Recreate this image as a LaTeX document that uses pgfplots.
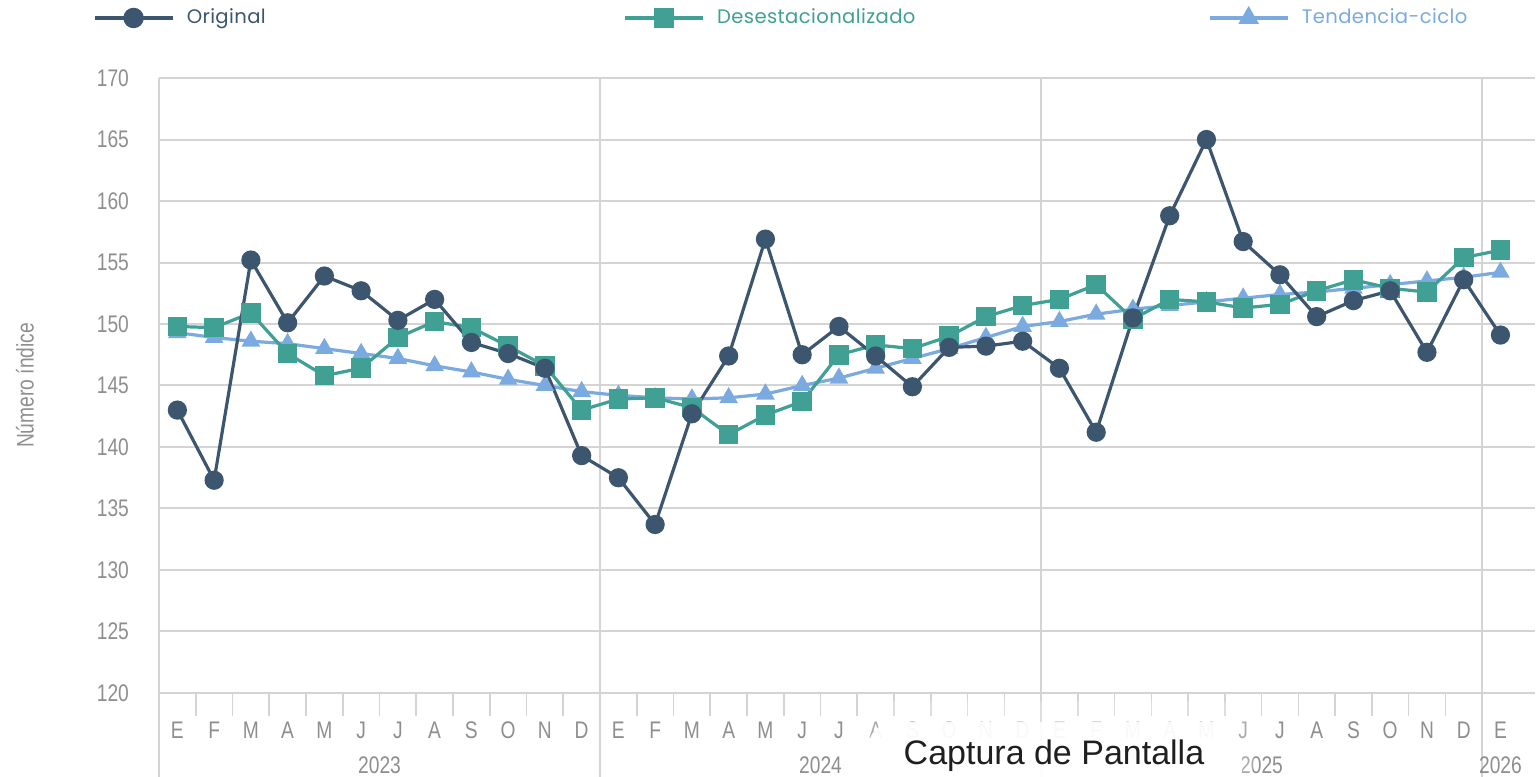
\documentclass[border=0pt]{standalone}
\usepackage{fontspec}
\setmainfont{Liberation Sans}
\newfontfamily\cond[FakeStretch=0.8]{Liberation Sans}
\newfontfamily\legfont[LetterSpace=2]{Poppins}
\usepackage{pgfplots}
\usepackage{pgfplotstable}
\pgfplotsset{compat=1.18}

\definecolor{orig}{HTML}{3D5670}
\definecolor{desest}{HTML}{3FA093}
\definecolor{tend}{HTML}{7AAADF}
\definecolor{gridgray}{HTML}{D4D4D4}
\definecolor{tickgray}{HTML}{8E8E8E}

\tikzset{ticktext/.style={font=\cond\fontsize{12}{14}\selectfont, text=tickgray}}
\pgfplotsset{
  legline/.style={legend image code/.code={%
    \draw[mark repeat=2,mark phase=2,line width=2.2pt,##1] plot coordinates {(0pt,0pt) (19.5pt,0pt) (39pt,0pt)};}},
}

\pgfplotstableread{
i orig desest tend
0 143.0 149.8 149.3
1 137.3 149.7 148.9
2 155.2 150.9 148.6
3 150.1 147.6 148.4
4 153.9 145.8 148.0
5 152.7 146.4 147.6
6 150.3 148.9 147.2
7 152.0 150.2 146.6
8 148.5 149.7 146.1
9 147.6 148.2 145.5
10 146.4 146.6 145.0
11 139.3 143.0 144.5
12 137.5 143.9 144.2
13 133.7 144.0 144.0
14 142.7 143.2 143.9
15 147.4 141.0 144.0
16 156.9 142.6 144.3
17 147.5 143.7 145.0
18 149.8 147.5 145.6
19 147.4 148.3 146.4
20 144.9 148.0 147.2
21 148.1 149.0 148.0
22 148.2 150.6 148.9
23 148.6 151.5 149.8
24 146.4 152.0 150.2
25 141.2 153.2 150.8
26 150.5 150.4 151.2
27 158.8 152.0 151.5
28 165.0 151.8 151.8
29 156.7 151.3 152.1
30 154.0 151.6 152.4
31 150.6 152.7 152.6
32 151.9 153.6 152.9
33 152.7 152.9 153.2
34 147.7 152.6 153.5
35 153.6 155.4 153.8
36 149.1 156.0 154.2
}\datatable

\begin{document}
\begin{tikzpicture}
\useasboundingbox (0,0) rectangle (769.5pt,388.5pt);
\begin{axis}[
  at={(79.5pt,42pt)}, anchor=south west,
  scale only axis, width=688pt, height=307.5pt,
  xmin=-0.5, xmax=36.94, ymin=120, ymax=170,
  ytick={120,125,...,170},
  xtick={0,...,36},
  xticklabels={E,F,M,A,M,J,J,A,S,O,N,D,E,F,M,A,M,J,J,A,S,O,N,D,E,F,M,A,M,J,J,A,S,O,N,D,E},
  minor xtick={0.5,1.5,...,34.5},
  tick pos=left,
  tick align=outside,
  major tick length=0pt,
  minor tick length=11.5pt,
  minor tick style={gridgray, line width=0.8pt},
  ymajorgrids=true,
  grid style={gridgray, line width=1pt},
  axis line style={draw=none},
  clip=false,
  /pgf/number format/assume math mode=true,
  yticklabel style={ticktext, xshift=-11.5pt},
  xticklabel style={ticktext, yshift=-11pt},
  ylabel={Número índice},
  ylabel style={at={(axis description cs:-0.0974,0.5)}, anchor=center, ticktext},
  legend columns=3,
  reverse legend,
  legend style={at={(axis description cs:-0.0487,1.0976)}, anchor=west,
    draw=none, fill=none, inner sep=0pt,
    font=\legfont\fontsize{9.8}{11}\selectfont,
    /tikz/every odd column/.append style={column sep=4pt}},
]
% year separators and left border
\draw[gridgray, line width=1pt] (axis cs:-0.5,170) -- ([yshift=-42pt]axis cs:-0.5,120);
\draw[gridgray, line width=1pt] (axis cs:11.5,170) -- ([yshift=-42pt]axis cs:11.5,120);
\draw[gridgray, line width=1pt] (axis cs:23.5,170) -- ([yshift=-42pt]axis cs:23.5,120);
\draw[gridgray, line width=1pt] (axis cs:35.5,170) -- ([yshift=-42pt]axis cs:35.5,120);
\node[ticktext] at ([yshift=-36pt]axis cs:5.5,120) {2023};
\node[ticktext] at ([yshift=-36pt]axis cs:17.5,120) {2024};
\node[ticktext] at ([yshift=-36pt]axis cs:29.5,120) {2025};
\node[ticktext] at ([yshift=-36pt]axis cs:36,120) {2026};

\addplot[tend, line width=1.6pt, mark=triangle*, mark size=3.8pt, legline]
  table[x=i, y=tend] {\datatable};
\addlegendentry{\textcolor{tend}{Tendencia-ciclo}}
\addplot[desest, line width=1.6pt, mark=square*, mark size=4.1pt, legline]
  table[x=i, y=desest] {\datatable};
\addlegendentry{\textcolor{desest}{Desestacionalizado}\rule{144pt}{0pt}}
\addplot[orig, line width=1.6pt, mark=*, mark size=4pt, legline]
  table[x=i, y=orig] {\datatable};
\addlegendentry{\textcolor{orig}{Original}\rule{176.5pt}{0pt}}
\end{axis}
% screenshot overlay
\fill[white, opacity=0.25, rounded corners=18pt] (426pt,-10pt) rectangle (627pt,38pt);
\fill[white, opacity=0.93, rounded corners=13pt] (434pt,-10pt) rectangle (621pt,27.5pt);
\node[font=\fontsize{17}{19}\selectfont, text=black!88] at (527pt,10.5pt) {Captura de Pantalla};
\end{tikzpicture}
\end{document}
